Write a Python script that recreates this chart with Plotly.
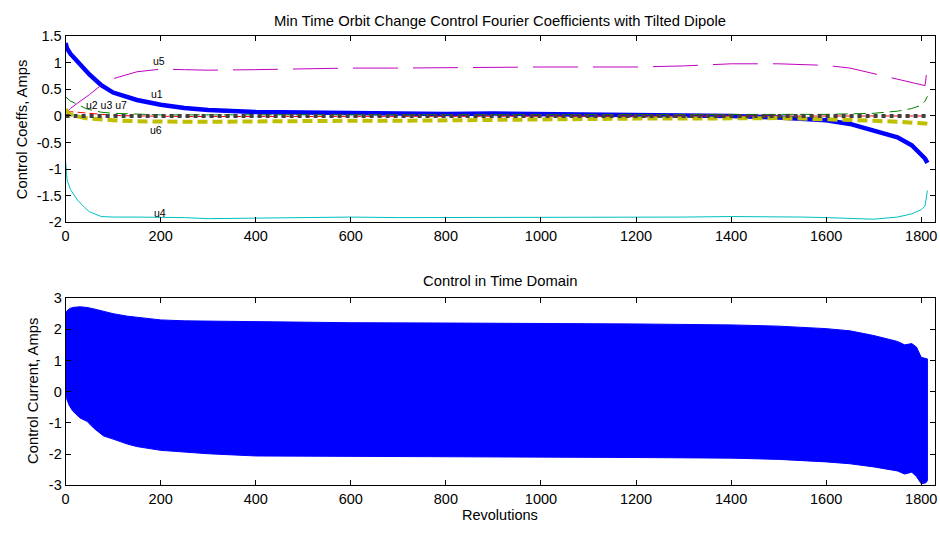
import plotly.graph_objects as go

# ---------------- data ----------------
# Top panel: Fourier coefficient histories (Amps) vs revolutions
rev_coef = [0, 3, 10, 25, 40, 50, 75, 100, 150, 200, 250, 300, 400, 500, 600, 700, 800,
            900, 1000, 1100, 1200, 1300, 1400, 1500, 1550, 1600, 1650, 1700, 1750, 1780,
            1800, 1808, 1813]
u1 = [1.37, 1.27, 1.17, 1.03, 0.87, 0.78, 0.58, 0.44, 0.30, 0.21, 0.15, 0.11, 0.075, 0.06,
      0.05, 0.04, 0.035, 0.045, 0.04, 0.03, 0.02, 0.02, 0.0, -0.03, -0.05, -0.08, -0.15,
      -0.27, -0.40, -0.55, -0.72, -0.80, -0.88]
u2 = [0.36, 0.33, 0.28, 0.22, 0.15, 0.12, 0.07, 0.05, 0.03, 0.02, 0.02, 0.02, 0.02, 0.02,
      0.02, 0.02, 0.02, 0.02, 0.02, 0.02, 0.02, 0.02, 0.02, 0.02, 0.03, 0.03, 0.04, 0.05,
      0.09, 0.14, 0.20, 0.28, 0.37]
u3 = [0.10, 0.09, 0.08, 0.07, 0.06, 0.05, 0.03, 0.01, 0.0, -0.01, -0.01, -0.01, -0.01, -0.01,
      -0.01, -0.01, -0.01, -0.01, -0.01, -0.01, -0.01, -0.01, -0.01, -0.01, -0.01, -0.01,
      -0.01, -0.01, -0.01, 0.0, 0.0, 0.01, 0.02]
u4 = [-0.85, -1.20, -1.38, -1.58, -1.72, -1.80, -1.89, -1.90, -1.90, -1.90, -1.91, -1.93,
      -1.92, -1.91, -1.90, -1.91, -1.91, -1.90, -1.90, -1.91, -1.90, -1.90, -1.89, -1.89,
      -1.90, -1.91, -1.92, -1.94, -1.90, -1.84, -1.76, -1.69, -1.40]
u5 = [0.05, 0.08, 0.14, 0.24, 0.33, 0.40, 0.58, 0.70, 0.83, 0.88, 0.87, 0.86, 0.87, 0.89,
      0.90, 0.90, 0.91, 0.91, 0.92, 0.92, 0.92, 0.94, 0.98, 0.98, 0.97, 0.95, 0.90, 0.80,
      0.70, 0.64, 0.60, 0.57, 0.93]
u6 = [0.13, 0.08, 0.03, -0.01, -0.04, -0.05, -0.07, -0.08, -0.10, -0.11, -0.11, -0.11,
      -0.10, -0.10, -0.09, -0.09, -0.08, -0.08, -0.07, -0.06, -0.05, -0.05, -0.04, -0.04,
      -0.05, -0.06, -0.07, -0.09, -0.11, -0.12, -0.13, -0.14, -0.15]
u7 = [0.0, 0.0, 0.0, 0.0, 0.0, 0.0, 0.0, 0.0, -0.005, -0.005, -0.005, -0.005, -0.005,
      -0.005, -0.005, -0.005, -0.005, -0.005, -0.005, -0.005, -0.005, -0.005, -0.005,
      -0.005, -0.005, -0.005, -0.005, -0.005, -0.005, -0.005, -0.005, 0.0, 0.0]

coef_names = ["u1", "u2", "u3", "u4", "u5", "u6", "u7"]

# Curve labels (text, revolutions, value)
label_text = ["u5", "u1", "u2 u3 u7", "u6", "u4"]
label_rev = [196, 192, 87, 190, 198]
label_val = [1.04, 0.41, 0.206, -0.27, -1.83]

# Bottom panel: envelope of the time-domain control current (Amps)
rev_time = [0, 2, 8, 15, 30, 45, 60, 80, 100, 130, 150, 200, 250, 300, 400, 500, 600, 800,
            1000, 1200, 1400, 1500, 1600, 1650, 1700, 1730, 1750, 1765, 1780, 1790, 1800,
            1810, 1813]
current_max = [2.52, 2.58, 2.66, 2.70, 2.72, 2.70, 2.65, 2.58, 2.50, 2.42, 2.38, 2.30, 2.27,
               2.26, 2.24, 2.22, 2.21, 2.20, 2.19, 2.17, 2.14, 2.10, 2.02, 1.95, 1.80, 1.70,
               1.61, 1.50, 1.54, 1.43, 1.10, 1.06, 1.05]
current_min = [-0.05, -0.22, -0.45, -0.62, -0.84, -0.95, -1.18, -1.42, -1.52, -1.68, -1.76,
               -1.88, -1.94, -1.99, -2.06, -2.08, -2.09, -2.10, -2.10, -2.11, -2.13, -2.17,
               -2.25, -2.31, -2.41, -2.48, -2.54, -2.64, -2.58, -2.72, -2.95, -2.92, -2.85]

# Tick labels
x_ticks = [0, 200, 400, 600, 800, 1000, 1200, 1400, 1600, 1800]
x_ticktext = ["0", "200", "400", "600", "800", "1000", "1200", "1400", "1600", "1800"]
y1_ticks = [1.5, 1, 0.5, 0, -0.5, -1, -1.5, -2]
y1_ticktext = ["1.5", "1", "0.5", "0", "-0.5", "-1", "-1.5", "-2"]
y2_ticks = [3, 2, 1, 0, -1, -2, -3]
y2_ticktext = ["3", "2", "1", "0", "-1", "-2", "-3"]

title_top = "Min Time Orbit Change Control Fourier Coefficients with Tilted Dipole"
title_bottom = "Control in Time Domain"
ylabel_top = "Control Coeffs, Amps"
ylabel_bottom = "Control Current, Amps"
xlabel_bottom = "Revolutions"

# ---------------- styling ----------------
W, H = 940, 535
FONT = "Liberation Sans, Arial, sans-serif"
styles = {
    "u1": dict(color="#0000FF", width=4.5, dash="solid"),
    "u2": dict(color="#008000", width=1, dash="12px,6px"),
    "u3": dict(color="#FF0000", width=1, dash="8px,4px"),
    "u4": dict(color="#00BFBF", width=1, dash="solid"),
    "u5": dict(color="#BF00BF", width=1, dash="45px,15px"),
    "u6": dict(color="#BFBF00", width=4, dash="10px,5px"),
    "u7": dict(color="#404040", width=4, dash="4px,4px"),
}
series = {"u1": u1, "u2": u2, "u3": u3, "u4": u4, "u5": u5, "u6": u6, "u7": u7}

fig = go.Figure()
for name in coef_names:
    fig.add_trace(go.Scatter(x=rev_coef, y=series[name], mode="lines", name=name,
                             line=styles[name], xaxis="x", yaxis="y", showlegend=False))

for t, xr, yv in zip(label_text, label_rev, label_val):
    fig.add_annotation(x=xr, y=yv, xref="x", yref="y", text=t, showarrow=False,
                       font=dict(family=FONT, size=10.5, color="black"),
                       xanchor="center", yanchor="middle")

fig.add_trace(go.Scatter(x=rev_time + rev_time[::-1],
                         y=current_max + current_min[::-1],
                         mode="lines", fill="toself", fillcolor="#0000FF",
                         line=dict(color="#0000FF", width=1),
                         xaxis="x2", yaxis="y2", showlegend=False))

xdom = [62 / W, 937 / W]
top_dom = [1 - 221 / H, 1 - 29 / H]
bot_dom = [1 - 492 / H, 1 - 299 / H]

axis_common = dict(showline=True, linecolor="black", linewidth=1, mirror="ticks",
                   ticks="inside", ticklen=5, tickcolor="black", showgrid=False,
                   zeroline=False, tickfont=dict(family=FONT, size=14.5, color="black"))

fig.update_layout(
    width=W, height=H,
    margin=dict(l=0, r=0, t=0, b=0),
    paper_bgcolor="white", plot_bgcolor="white",
    xaxis=dict(domain=xdom, range=[0, 1829], anchor="y", tickvals=x_ticks,
               ticktext=x_ticktext, **axis_common),
    yaxis=dict(domain=top_dom, range=[-2, 1.5], anchor="x", tickvals=y1_ticks,
               ticktext=y1_ticktext, **axis_common),
    xaxis2=dict(domain=xdom, range=[0, 1829], anchor="y2", tickvals=x_ticks,
                ticktext=x_ticktext, **axis_common),
    yaxis2=dict(domain=bot_dom, range=[-3, 3], anchor="x2", tickvals=y2_ticks,
                ticktext=y2_ticktext, **axis_common),
)

def px_ann(text, x, y, size=14, angle=0):
    fig.add_annotation(x=x / W, y=1 - y / H, xref="paper", yref="paper", text=text,
                       showarrow=False, textangle=angle, xanchor="center",
                       yanchor="middle", font=dict(family=FONT, size=size, color="black"))

px_ann(title_top, (62 + 937) / 2, 13, size=14.8)
px_ann(title_bottom, (62 + 937) / 2, 281, size=14.8)
px_ann(ylabel_top, 18, 125, size=14.8, angle=-90)
px_ann(ylabel_bottom, 29, 395, size=14.8, angle=-90)
px_ann(xlabel_bottom, (62 + 937) / 2, 523, size=14.5)

fig.write_html("out.html")
